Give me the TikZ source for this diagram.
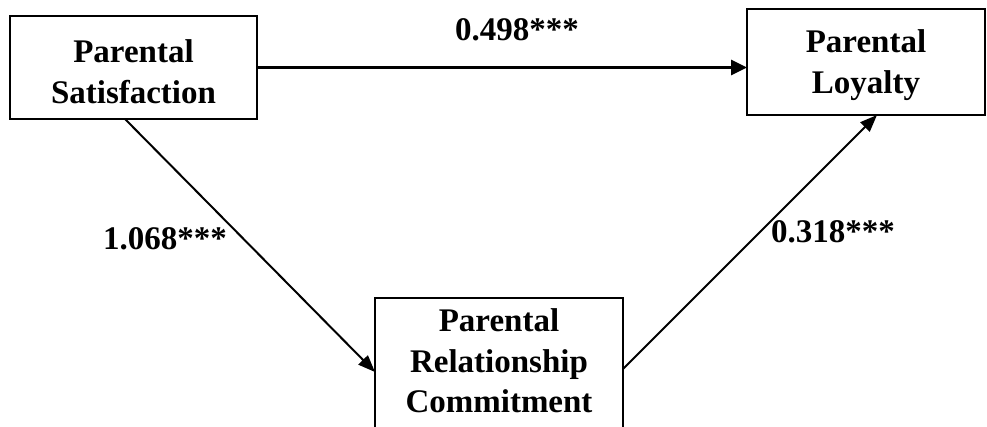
\documentclass[tikz,border=0pt]{standalone}
\usepackage{fontspec}
\setmainfont{Liberation Serif}
\usetikzlibrary{arrows.meta,calc}
\begin{document}
\begin{tikzpicture}[x=1pt,y=-1pt,
  box/.style={draw, line width=2pt, inner sep=0pt, outer sep=0pt, align=center,
    font=\fontsize{33}{40.5}\selectfont\bfseries},
  lbl/.style={anchor=base, inner sep=0pt, font=\fontsize{33}{40}\selectfont\bfseries},
  arr/.style={line width=2pt, -{Triangle[length=17pt,width=13pt]}},
  harr/.style={line width=3pt, -{Triangle[length=16pt,width=15pt]}}]
\clip (0,0) rectangle (987,427);
\node[box, minimum width=247pt, minimum height=103pt] (sat) at (133.5,67.5)
  {\rule{0pt}{31pt}Parental\\Satisfaction};
\node[box, minimum width=238pt, minimum height=106pt] (loy) at (866,62)
  {\rule{0pt}{29pt}Parental\\Loyalty};
\node[box, minimum width=248pt, minimum height=147pt] (com) at (499,371.5)
  {Parental\\Relationship\\Commitment\rule[-21.5pt]{0pt}{21.5pt}};
\draw[harr] (sat.east) -- (sat.east -| loy.west);
\draw[arr] ($(sat.south west)+(115,0)$) -- ($(com.north west)+(0,74)$);
\draw[arr] ($(com.north east)+(0,71)$) -- ($(loy.south west)+(130,0)$);
\node[lbl] (b1) at (517,41) {0.498***};
\node[lbl] (b2) at (165,250) {1.068***};
\node[lbl] (b3) at (833,243) {0.318***};
\end{tikzpicture}
\end{document}
